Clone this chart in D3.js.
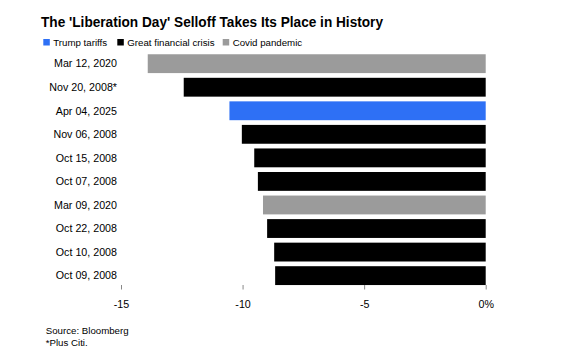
<!DOCTYPE html>
<html>
<head>
<meta charset="utf-8">
<script src="https://cdn.jsdelivr.net/npm/d3@7"></script>
<style>
  html, body { margin: 0; padding: 0; background: #fff; }
  svg { display: block; font-family: "Liberation Sans", Arial, Helvetica, sans-serif; }
</style>
</head>
<body>
<div id="chart"></div>
<script>
const categories = ["Mar 12, 2020", "Nov 20, 2008*", "Apr 04, 2025", "Nov 06, 2008", "Oct 15, 2008", "Oct 07, 2008", "Mar 09, 2020", "Oct 22, 2008", "Oct 10, 2008", "Oct 09, 2008"];
const values = [-13.9, -12.42, -10.54, -10.03, -9.52, -9.37, -9.16, -8.99, -8.70, -8.66];
const groups = ["Covid pandemic", "Great financial crisis", "Trump tariffs", "Great financial crisis", "Great financial crisis", "Great financial crisis", "Covid pandemic", "Great financial crisis", "Great financial crisis", "Great financial crisis"];
const legendNames = ["Trump tariffs", "Great financial crisis", "Covid pandemic"];
const legendColors = ["#2e70f5", "#000000", "#9b9b9b"];
const tickValues = [-15, -10, -5, 0];
const tickLabels = ["-15", "-10", "-5", "0%"];

const W = 583, H = 358;
const svg = d3.select("#chart").append("svg").attr("width", W).attr("height", H);

const color = d3.scaleOrdinal().domain(legendNames).range(legendColors);
const x = d3.scaleLinear().domain([-15, 0]).range([121, 485.7]);
const y = d3.scaleBand().domain(categories).range([51.9, 287.4]).paddingInner(0.2).paddingOuter(0.1);

// Title
svg.append("text").attr("x", 41).attr("y", 26.5)
  .attr("font-size", 15.5).attr("font-weight", "bold").attr("fill", "#000")
  .attr("textLength", 342).attr("lengthAdjust", "spacingAndGlyphs")
  .text("The 'Liberation Day' Selloff Takes Its Place in History");

// Legend
const legendX = [43.3, 117.3, 222.7];
legendNames.forEach((name, i) => {
  svg.append("rect").attr("x", legendX[i]).attr("y", 39).attr("width", 6.5).attr("height", 6.5).attr("fill", legendColors[i]);
  svg.append("text").attr("x", legendX[i] + 10).attr("y", 45.8).attr("font-size", 9.7).attr("fill", "#000").text(name);
});

// Bars
svg.append("g").selectAll("rect").data(categories).join("rect")
  .attr("x", (d, i) => x(values[i]))
  .attr("y", d => y(d))
  .attr("width", (d, i) => x(0) - x(values[i]))
  .attr("height", y.bandwidth())
  .attr("fill", (d, i) => color(groups[i]));

// Category labels
svg.append("g").selectAll("text").data(categories).join("text")
  .attr("x", 117)
  .attr("y", d => y(d) + y.bandwidth() / 2)
  .attr("dy", "0.35em")
  .attr("text-anchor", "end")
  .attr("font-size", 10.7)
  .attr("fill", "#000")
  .text(d => d);

// X axis
const xAxis = d3.axisBottom(x).tickValues(tickValues).tickSize(4.5).tickPadding(11)
  .tickFormat((d, i) => tickLabels[i]);
const gx = svg.append("g").attr("transform", "translate(0,285)").call(xAxis);
gx.select(".domain").remove();
gx.selectAll(".tick line").attr("stroke", "#888").attr("stroke-width", 1);
gx.selectAll(".tick text").attr("font-size", 10.7).attr("fill", "#000")
  .attr("font-family", "'Liberation Sans', Arial, sans-serif");

// Footer
svg.append("text").attr("x", 45.7).attr("y", 334).attr("font-size", 9.7).attr("fill", "#000").text("Source: Bloomberg");
svg.append("text").attr("x", 45.7).attr("y", 345.5).attr("font-size", 9.7).attr("fill", "#000").text("*Plus Citi.");
</script>
</body>
</html>
